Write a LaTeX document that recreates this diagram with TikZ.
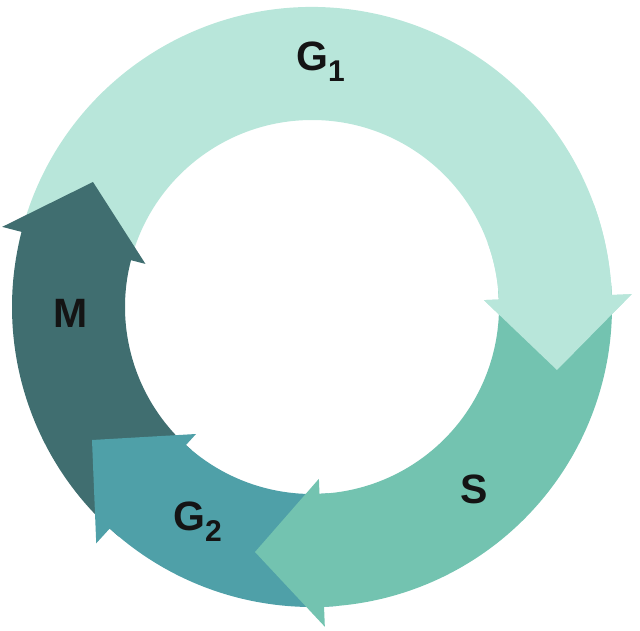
\documentclass[tikz,border=0pt]{standalone}
\usepackage{fontspec}
\setmainfont{Liberation Sans}
\definecolor{cGone}{RGB}{184,230,218}
\definecolor{cS}{RGB}{115,195,176}
\definecolor{cGtwo}{RGB}{79,160,168}
\definecolor{cM}{RGB}{64,110,112}
\definecolor{txt}{RGB}{20,20,20}
% #1 colour, #2 tail angle, #3 head-base angle, #4,#5 tip
\newcommand{\cyclearrow}[5]{%
  \fill[#1] (#2:300pt) arc[start angle=#2, end angle=#3, radius=300pt]
    -- (#3:320pt) -- (#4,#5) -- (#3:172pt) -- (#3:187pt)
    arc[start angle=#3, end angle=#2, radius=187pt] -- cycle;}
\begin{document}
\begin{tikzpicture}[x=1pt,y=1pt,
  lbl/.style={inner sep=0pt, text=txt, font=\fontsize{41}{41}\selectfont\bfseries}]
\useasboundingbox (-312,-324) rectangle (328,307);
% G1 full (tail hidden under M head)
\cyclearrow{cGone}{168}{2.3}{245}{-63}
% M
\cyclearrow{cM}{230}{165.5}{-219}{125}
% G2
\cyclearrow{cGtwo}{-85}{-132.4}{-220}{-133}
% S
\cyclearrow{cS}{5}{-87.7}{-57}{-245}
% G1 head again, on top of S
\cyclearrow{cGone}{20}{2.3}{245}{-63}
% labels
\node[lbl, anchor=base west] (g1) at (-16,236) {G\raisebox{-11pt}{\fontsize{30}{30}\selectfont 1}};
\node[lbl, anchor=base] (s) at (162,-197) {S};
\node[lbl, anchor=base west] (g2) at (-139,-224) {G\raisebox{-11pt}{\fontsize{30}{30}\selectfont 2}};
\node[lbl, anchor=base] (m) at (-241.5,-21) {M};
\end{tikzpicture}
\end{document}
